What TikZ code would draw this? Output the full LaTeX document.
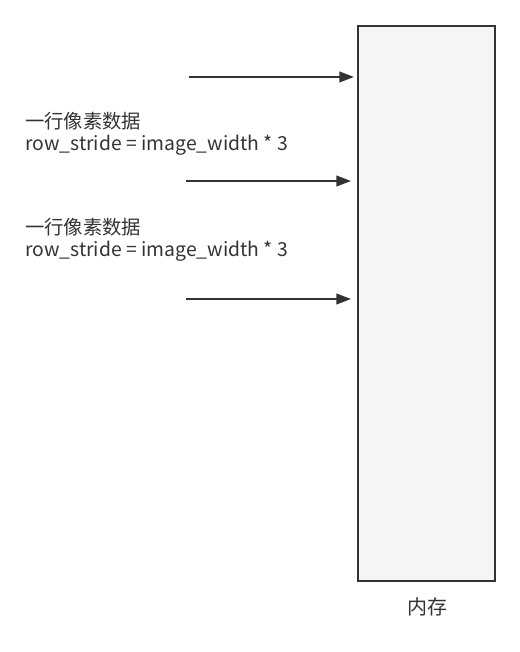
\documentclass[tikz,border=0pt]{standalone}
\usepackage{fontspec}
\setmainfont{Noto Sans CJK SC}
\usetikzlibrary{arrows.meta}
\definecolor{lc}{HTML}{333333}
\definecolor{mf}{HTML}{F5F5F5}
\begin{document}
\begin{tikzpicture}[x=0.75pt,y=-0.75pt,
  conn/.style={draw=lc,line width=1.5pt,-{Triangle[length=11pt,width=8pt]}},
  lbl/.style={anchor=west,align=left,inner sep=0pt,font=\fontsize{14.5pt}{16.5pt}\selectfont,text=lc}]
\useasboundingbox (0,0) rectangle (519,652);
\node[draw=lc,fill=mf,line width=1.5pt,minimum width=102.75pt,minimum height=416.25pt,inner sep=0pt,anchor=north west] (mem) at (357,25) {};
\node[inner sep=0pt,font=\fontsize{15pt}{16pt}\selectfont,text=lc] (memlbl) at (427,607) {内存};
\coordinate (s1) at (189,77);
\coordinate (s2) at (186,181);
\coordinate (s3) at (186,299);
\draw[conn] (s1) -- ([xshift=-2.25pt]s1 -| mem.west);
\draw[conn] (s2) -- ([xshift=-4.5pt]s2 -| mem.west);
\draw[conn] (s3) -- ([xshift=-4.5pt]s3 -| mem.west);
\node[lbl] (t1) at (25,133.5) {一行像素数据\\row\_stride = image\_width * 3};
\node[lbl] (t2) at (25,239.5) {一行像素数据\\row\_stride = image\_width * 3};
\end{tikzpicture}
\end{document}
